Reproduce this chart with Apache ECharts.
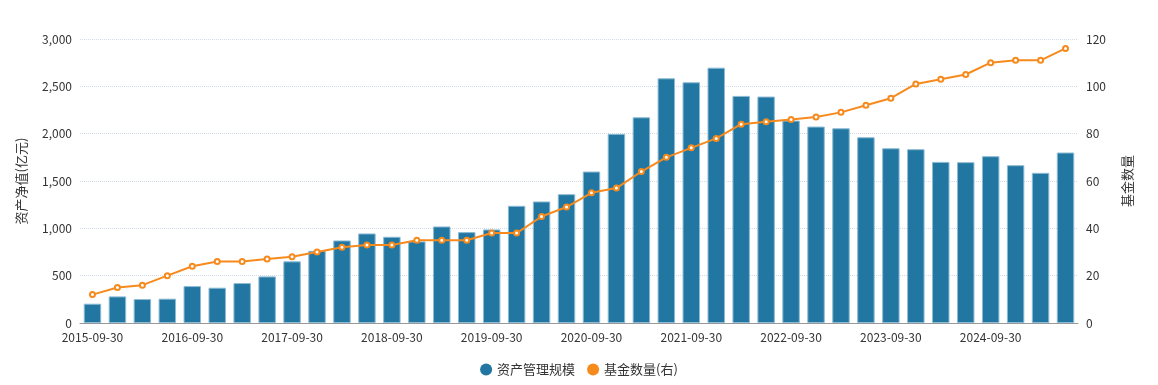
<!DOCTYPE html>
<html><head><meta charset="utf-8">
<script src="https://cdn.jsdelivr.net/npm/echarts@6/dist/echarts.min.js"></script>
<style>html,body{margin:0;padding:0;background:#fff}#c{width:1158px;height:385px}</style>
</head><body><div id="c"></div>
<script>
const categories = [
 '2015-09-30','2015-12-31','2016-03-31','2016-06-30',
 '2016-09-30','2016-12-31','2017-03-31','2017-06-30',
 '2017-09-30','2017-12-31','2018-03-31','2018-06-30',
 '2018-09-30','2018-12-31','2019-03-31','2019-06-30',
 '2019-09-30','2019-12-31','2020-03-31','2020-06-30',
 '2020-09-30','2020-12-31','2021-03-31','2021-06-30',
 '2021-09-30','2021-12-31','2022-03-31','2022-06-30',
 '2022-09-30','2022-12-31','2023-03-31','2023-06-30',
 '2023-09-30','2023-12-31','2024-03-31','2024-06-30',
 '2024-09-30','2024-12-31','2025-03-31','2025-06-30'];
const assetScale = [204,281,253,257,390,373,422,492,651,763,872,946,
 911,862,1020,960,988,1238,1284,1361,1600,1998,2173,2585,2543,2697,2399,2392,
 2138,2075,2057,1962,1846,1836,1702,1699,1762,1667,1586,1801];
const fundCount = [12,15,16,20,24,26,26,27,28,30,32,33,
 33,35,35,35,38,38,45,49,55,57,64,70,74,78,84,85,
 86,87,89,92,95,101,103,105,110,111,111,116];
const leftTicks = {min:0,max:3000,interval:500};
const rightTicks = {min:0,max:120,interval:20};

const chart = echarts.init(document.getElementById('c'));
const font = 'Noto Sans CJK SC';
chart.setOption({
  animation:false,
  textStyle:{fontFamily:font},
  grid:{left:80,right:80,top:39,bottom:62},
  legend:{bottom:4,left:'center',itemWidth:12,itemHeight:12,itemGap:12,
    textStyle:{fontSize:13,color:'#333',fontFamily:font},
    data:[{name:'资产管理规模',icon:'circle',itemStyle:{borderWidth:0,color:'#2277a2'}},
          {name:'基金数量(右)',icon:'circle',itemStyle:{borderWidth:0,color:'#f78a1d'}}]},
  xAxis:{type:'category',data:categories,
    axisLine:{lineStyle:{color:'#999'}},
    axisTick:{alignWithLabel:true,interval:3,lineStyle:{color:'#999'}},
    axisLabel:{interval:3,color:'#333',fontSize:12,margin:8,fontFamily:font}},
  yAxis:[
    {type:'value',name:'资产净值(亿元)',nameLocation:'middle',nameGap:52,
     nameTextStyle:{color:'#333',fontSize:13,fontFamily:font},
     min:leftTicks.min,max:leftTicks.max,interval:leftTicks.interval,
     axisLine:{show:false},axisTick:{show:false},
     axisLabel:{color:'#333',fontSize:12,formatter:v=>v.toLocaleString('en-US')},
     splitLine:{lineStyle:{type:'dotted',color:'#d3dbe8'}}},
    {type:'value',name:'基金数量',nameLocation:'middle',nameGap:43,
     nameTextStyle:{color:'#333',fontSize:13,fontFamily:font},
     min:rightTicks.min,max:rightTicks.max,interval:rightTicks.interval,
     axisLine:{show:false},axisTick:{show:false},
     axisLabel:{color:'#333',fontSize:12},
     splitLine:{show:false}}
  ],
  series:[
    {name:'资产管理规模',type:'bar',data:assetScale,yAxisIndex:0,barWidth:'70%',
     itemStyle:{color:'#2277a2',borderColor:'#8dbbd4',borderWidth:1}},
    {name:'基金数量(右)',type:'line',data:fundCount,yAxisIndex:1,
     symbol:'emptyCircle',symbolSize:5,
     lineStyle:{color:'#f78a1d',width:2},
     itemStyle:{color:'#f78a1d',borderWidth:1.5}}
  ]
});
</script></body></html>
